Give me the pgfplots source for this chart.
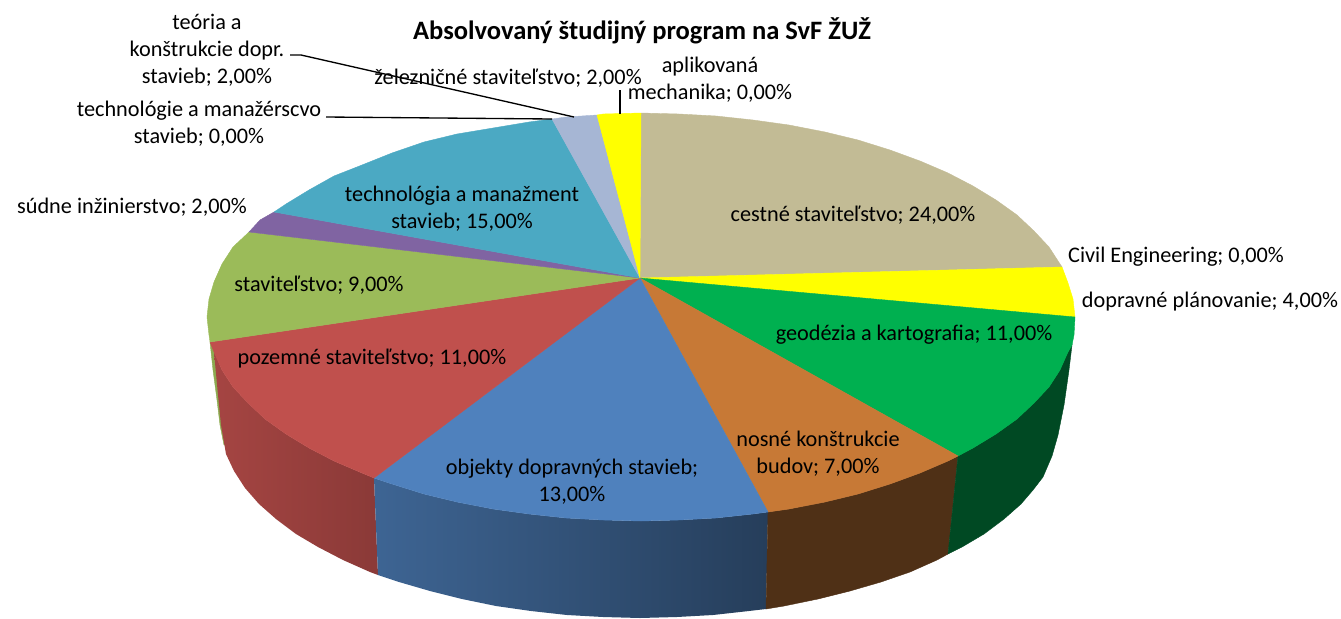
\documentclass[border=0pt]{standalone}
\usepackage{fontspec}
\setmainfont{Carlito}
\usepackage{pgfplots}
\pgfplotsset{compat=1.18}

\definecolor{ctan}{HTML}{C2BB95}
\definecolor{cyel}{HTML}{FFFF00}
\definecolor{cgrn}{HTML}{00B050}
\definecolor{corg}{HTML}{C77936}
\definecolor{cblu}{HTML}{4F81BD}
\definecolor{cred}{HTML}{C0504D}
\definecolor{coli}{HTML}{9BBB59}
\definecolor{cpur}{HTML}{8064A2}
\definecolor{ctea}{HTML}{4BA9C3}
\definecolor{clbl}{HTML}{A6B6D4}
\definecolor{sgrn}{HTML}{004923}
\definecolor{sorg}{HTML}{4F3016}
\definecolor{soli}{HTML}{8CAA50}

\tikzset{lab/.style={inner sep=0pt,align=center,font=\fontsize{16.7}{20.25}\selectfont}}
\pgfplotsset{top/.style={fill=#1,draw=#1,line width=0.3pt,mark=none}}

\begin{document}
\begin{tikzpicture}
\begin{axis}[
    scale only axis,
    width=1005.75pt,
    height=462.75pt,
    xmin=0, xmax=1341,
    ymin=0, ymax=617,
    y dir=reverse,
    hide axis,
    clip=false,
]

% keeps the page as large as the whole axis
\path (axis cs:0,0) rectangle (axis cs:1341,617);

% side walls (pixel positions)
\addplot[top=soli] coordinates {
    (210,342) (213,370) (217,400) (220,425) (224,445) (230,445) (226,400) (216,350) (210,342)
};
\addplot[draw=none,mark=none,left color=cred!86!black,right color=cred!72!black] coordinates {
    (214,352) (222,370) (233,387) (248,403) (265,419) (286,434) (309,448) (334,461) (362,473) (374,478)
    (378,575) (370,572) (343,560) (318,547) (296,534) (276,519) (259,504) (245,488) (234,471) (226,454) (221,425) (218,395) (214,352)
};
\addplot[draw=none,mark=none,left color=cblu!78!black,right color=cblu!48!black] coordinates {
    (374,478) (392,484) (424,494) (457,502) (493,509) (529,514) (566,518) (603,520) (641,521) (679,520) (716,518) (753,514) (768,512)
    (766,609) (749,611) (713,615) (677,617) (640,618) (603,617) (567,615) (531,611) (496,606) (462,599) (430,591) (399,582) (378,575) (374,478)
};
\addplot[top=sorg] coordinates {
    (768,512) (789,509) (825,502) (858,494) (890,484) (920,473) (948,461) (958,456)
    (948,554) (937,560) (910,572) (881,582) (850,591) (818,599) (784,606) (766,609) (768,512)
};
\addplot[top=sgrn] coordinates {
    (958,456) (973,448) (996,434) (1017,419) (1034,403) (1049,387) (1060,370) (1068,352) (1072,345)
    (1069,370) (1064,405) (1058,435) (1052,456) (1043,477) (1033,490) (1021,504) (1004,519) (984,534) (962,547) (948,554) (958,456)
};

% top face
\addplot[top=ctan] coordinates {
    (640,278) (641,113) (679,114) (716,116) (753,120) (789,125) (825,132) (858,140) (890,150) (920,161)
    (948,173) (973,186) (996,200) (1017,215) (1034,231) (1049,247) (1060,264) (1062,267) (640,278)
};
\addplot[top=cyel] coordinates {
    (640,278) (1062,267) (1068,283) (1073,299) (1075,317) (640,278)
};
\addplot[top=cgrn] coordinates {
    (640,278) (1075,317) (1074,335) (1072,345) (1068,352) (1060,370) (1049,387) (1034,403) (1017,419) (996,434) (973,448) (958,456) (640,278)
};
\addplot[top=corg] coordinates {
    (640,278) (958,456) (948,461) (920,473) (890,484) (858,494) (825,502) (789,509) (768,512) (640,278)
};
\addplot[top=cblu] coordinates {
    (640,278) (768,512) (753,514) (716,518) (679,520) (641,521) (603,520) (566,518) (529,514) (493,509) (457,502) (424,494) (392,484) (374,478) (640,278)
};
\addplot[top=cred] coordinates {
    (640,278) (374,478) (362,473) (334,461) (309,448) (286,434) (265,419) (248,403) (233,387) (222,370) (214,352) (210,342) (640,278)
};
\addplot[top=coli] coordinates {
    (640,278) (210,342) (209,335) (207,317) (209,299) (214,282) (222,264) (233,247) (249,232) (640,278)
};
\addplot[top=cpur] coordinates {
    (640,278) (249,232) (260,220) (274,212) (640,278)
};
\addplot[top=ctea] coordinates {
    (640,278) (274,212) (286,204) (309,190) (334,176) (362,165) (392,153) (424,142) (457,134) (493,128) (529,122) (552,119) (640,278)
};
\addplot[top=clbl] coordinates {
    (640,278) (552,119) (566,117) (597,115) (640,278)
};
\addplot[top=cyel] coordinates {
    (640,278) (597,115) (603,114) (641,113) (640,278)
};

% leader lines
\addplot[black,line width=1pt,mark=none] coordinates {(290,55) (301,55) (574,117)};
\addplot[black,line width=1pt,mark=none] coordinates {(326,117) (552,119)};
\addplot[black,line width=1pt,mark=none] coordinates {(620,90) (620,114)};

\node[lab,font=\fontsize{19.9}{24}\selectfont\bfseries] at (axis cs:642,31) {Absolvovaný študijný program na SvF ŽUŽ};
\node[lab] at (axis cs:207,50) {teória a\\konštrukcie dopr.\\stavieb; 2,00\%};
\node[lab] at (axis cs:508,78) {železničné staviteľstvo; 2,00\%};
\node[lab] at (axis cs:710,80) {aplikovaná\\mechanika; 0,00\%};
\node[lab] at (axis cs:199,124) {technológie a manažérscvo\\stavieb; 0,00\%};
\node[lab] at (axis cs:132,207) {súdne inžinierstvo; 2,00\%};
\node[lab] at (axis cs:462,209) {technológia a manažment\\stavieb; 15,00\%};
\node[lab] at (axis cs:853,215) {cestné staviteľstvo; 24,00\%};
\node[lab] at (axis cs:1176,257) {Civil Engineering; 0,00\%};
\node[lab] at (axis cs:1210,302) {dopravné plánovanie; 4,00\%};
\node[lab] at (axis cs:914,335) {geodézia a kartografia; 11,00\%};
\node[lab] at (axis cs:818,454) {nosné konštrukcie\\budov; 7,00\%};
\node[lab] at (axis cs:572,482) {objekty dopravných stavieb;\\13,00\%};
\node[lab] at (axis cs:372,359) {pozemné staviteľstvo; 11,00\%};
\node[lab] at (axis cs:319,285) {staviteľstvo; 9,00\%};
\end{axis}
\end{tikzpicture}
\end{document}
